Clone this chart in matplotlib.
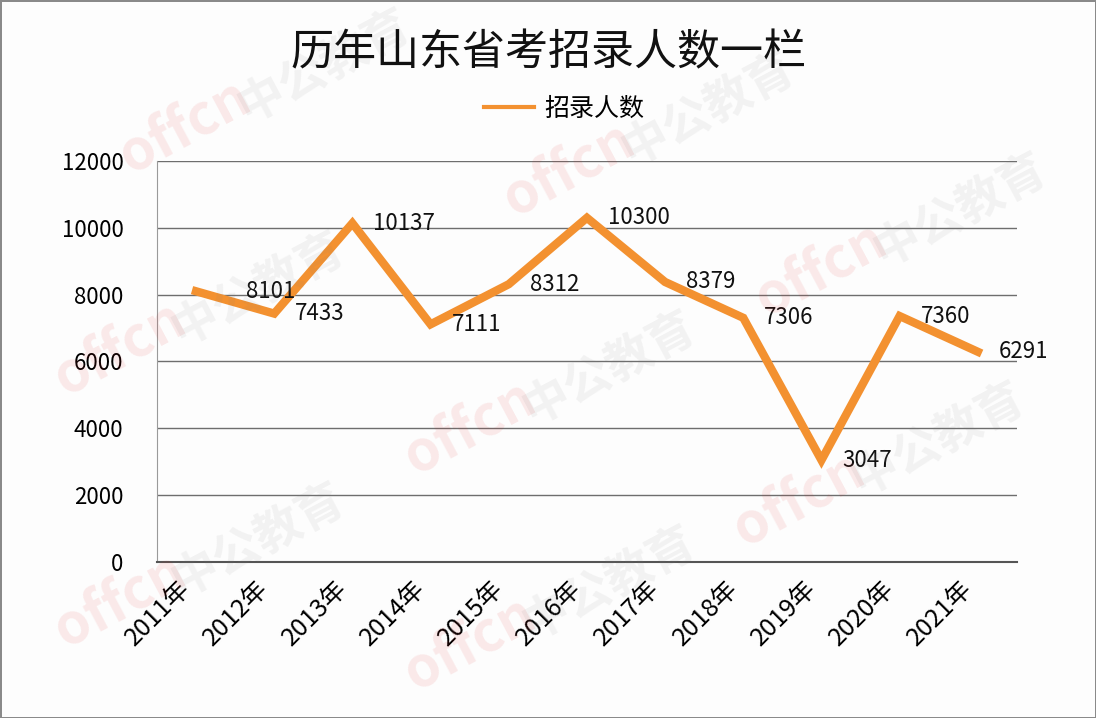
import matplotlib.pyplot as plt
from matplotlib.lines import Line2D

plt.rcParams['font.family'] = ['Noto Sans CJK SC', 'DejaVu Sans']

years = ['2011年', '2012年', '2013年', '2014年', '2015年', '2016年',
         '2017年', '2018年', '2019年', '2020年', '2021年']
counts = [8101, 7433, 10137, 7111, 8312, 10300, 8379, 7306, 3047, 7360, 6291]
# horizontal shift of each value label (points)
label_dx = [36, 15, 15, 15, 15, 15, 15, 15, 15, 15, 15]

line_color = '#f39130'

fig = plt.figure(figsize=(10.96, 7.18), dpi=100)
fig.patch.set_facecolor('#fdfdfd')
fig.patch.set_edgecolor('#8a8a8a')
fig.patch.set_linewidth(2)

# faint watermark like the original picture
marks = [(0.10, 0.76), (0.45, 0.70), (0.68, 0.56), (0.04, 0.45),
         (0.36, 0.34), (0.66, 0.24), (0.04, 0.10), (0.36, 0.04)]
for mx, my in marks:
    fig.text(mx, my, 'offcn', fontsize=40, color='#e02020', alpha=0.09,
             rotation=28, fontweight='bold', style='italic', zorder=0)
    fig.text(mx + 0.11, my + 0.07, '中公教育', fontsize=34, color='#808080',
             alpha=0.09, rotation=28, fontweight='bold', zorder=0)

ax = fig.add_axes([0.1432, 0.2173, 0.7846, 0.5585])
ax.set_facecolor('none')

x = list(range(len(years)))
ax.plot(x, counts, color=line_color, linewidth=6, solid_joinstyle='miter',
        zorder=3)

for xi, v, dx in zip(x, counts, label_dx):
    ax.annotate(str(v), (xi, v), xytext=(dx, 0), textcoords='offset points',
                ha='left', va='center', fontsize=16, color='#111111', zorder=4)

ax.set_xlim(-0.5, len(years) - 0.5)
ax.set_ylim(0, 12000)
ax.set_yticks(range(0, 12001, 2000))
ax.set_xticks(x)
ax.set_xticklabels(years, rotation=45, ha='right', fontsize=18)
ax.tick_params(axis='y', length=0, pad=24, labelsize=16)
ax.tick_params(axis='x', length=0, pad=10)
ax.grid(axis='y', color='#6e6e6e', linewidth=1)
ax.set_axisbelow(True)

for s in ['top', 'right']:
    ax.spines[s].set_visible(False)
ax.spines['left'].set_color('#9a9a9a')
ax.spines['bottom'].set_color('#555555')
ax.spines['bottom'].set_linewidth(1.5)

fig.text(0.5, 0.925, '历年山东省考招录人数一栏', ha='center', va='center',
         fontsize=31, color='#111111')
handle = Line2D([], [], color=line_color, linewidth=3)
fig.legend([handle], ['招录人数'], loc='center', bbox_to_anchor=(0.515, 0.848),
           frameon=False, fontsize=18, handlelength=2.0, handletextpad=0.4)

fig.savefig('out.png', dpi=100, facecolor=fig.get_facecolor(),
            edgecolor=fig.get_edgecolor())
